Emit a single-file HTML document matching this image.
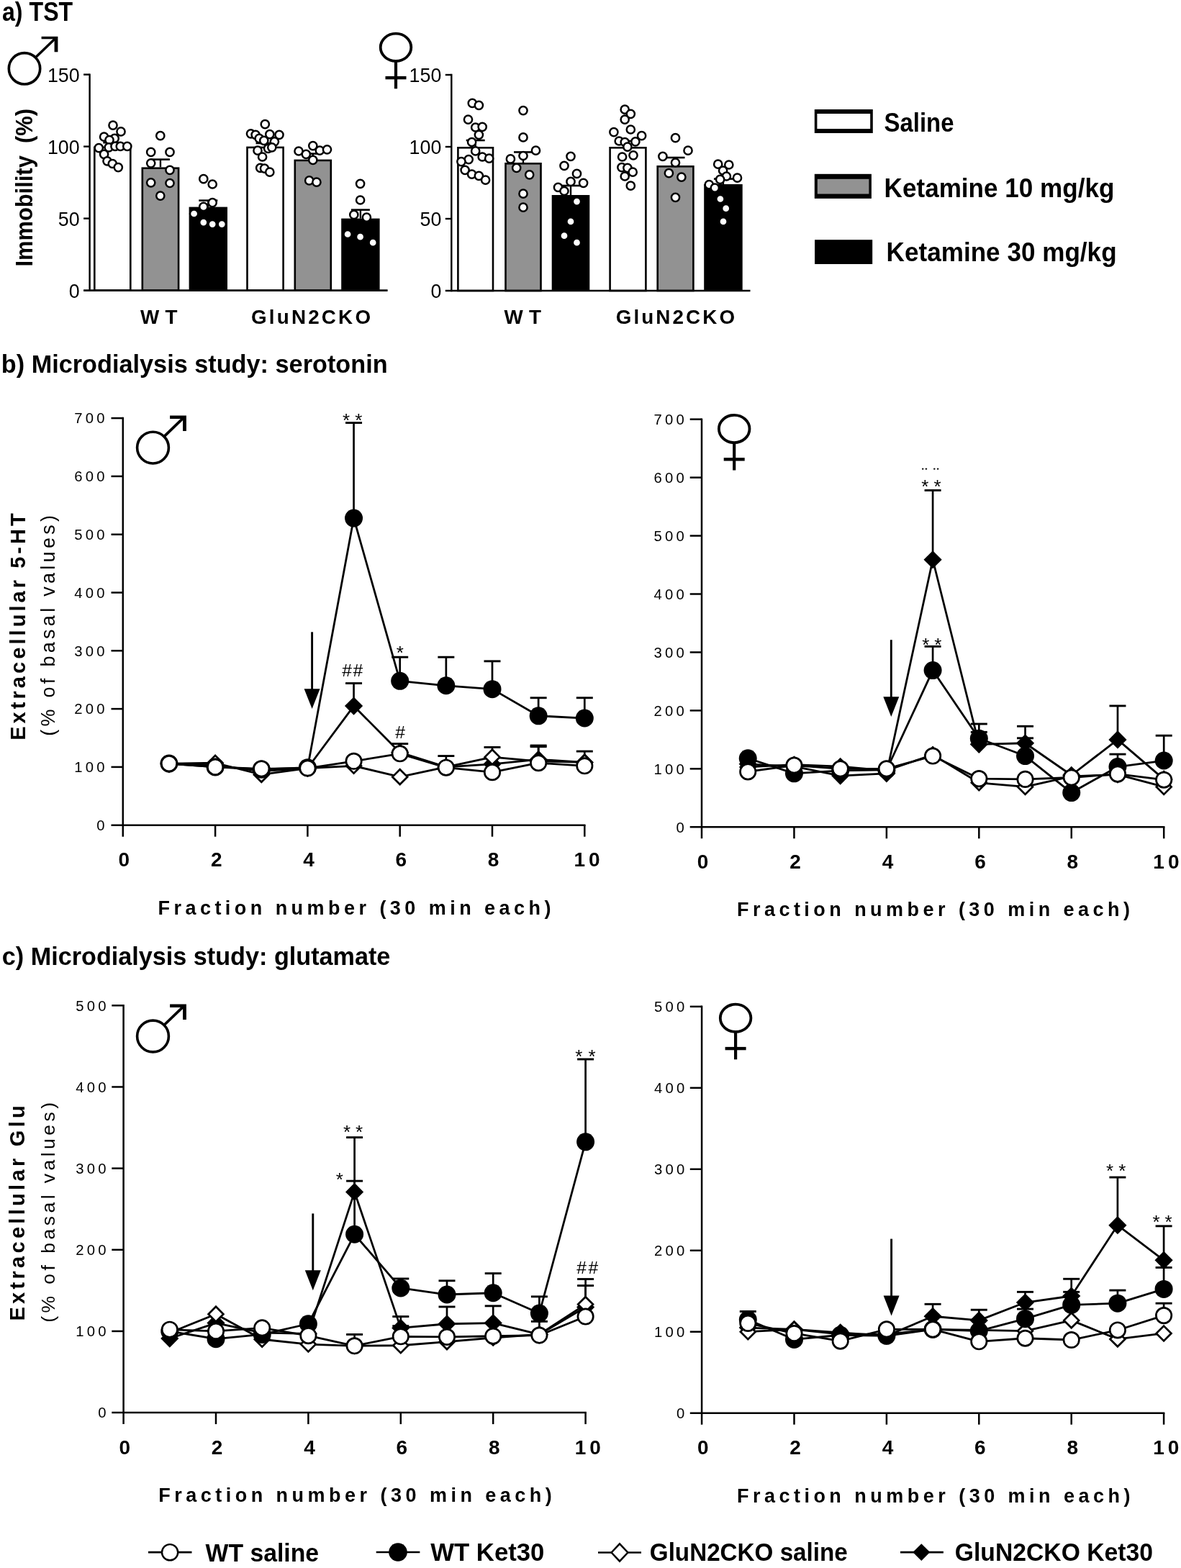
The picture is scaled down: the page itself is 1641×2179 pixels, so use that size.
<!DOCTYPE html>
<html><head><meta charset="utf-8"><title>Figure</title>
<style>html,body{margin:0;padding:0;background:#fff;overflow:hidden}svg{display:block}</style>
</head><body>
<svg width="1641" height="2179" viewBox="0 0 1641 2179">
<rect width="1641" height="2179" fill="#fff"/>
<g font-family="'Liberation Sans', Arial, sans-serif" font-weight="bold" fill="#000">
<text x="3" y="28.9" font-size="36.2" textLength="98.2" lengthAdjust="spacingAndGlyphs">a) TST</text>
<text x="1.8" y="517.8" font-size="35.2" textLength="536.8" lengthAdjust="spacingAndGlyphs">b) Microdialysis study: serotonin</text>
<text x="2.8" y="1340.8" font-size="35.6" textLength="539.6" lengthAdjust="spacingAndGlyphs">c) Microdialysis study: glutamate</text>
</g>
<g transform="translate(34 95.3)" stroke="#000">
<circle r="21.7" fill="none" stroke-width="3.6"/>
<line x1="15.5" y1="-15.5" x2="43" y2="-42" stroke-width="3.4"/>
<polygon points="23.6,-44.6 46.4,-44.6 46.4,-23 41.6,-23 41.6,-41 23.6,-41" stroke="none" fill="#000"/>
</g>
<g transform="translate(550 65.8)" stroke="#000">
<ellipse rx="21.3" ry="19.1" fill="none" stroke-width="3.8"/>
<line x1="0" y1="20" x2="0" y2="57.5" stroke-width="4.2"/>
<line x1="-14.5" y1="42.3" x2="14.5" y2="42.3" stroke-width="4.4"/>
</g>
<g stroke="#000">
<rect x="131.3" y="204.9" width="50" height="198.7" fill="#fff" stroke-width="2.6"/>
<line x1="156.3" y1="203.6" x2="156.3" y2="198.2" stroke-width="2.4"/>
<line x1="143.3" y1="198.2" x2="169.3" y2="198.2" stroke-width="2.6"/>
<rect x="197.8" y="233.7" width="50.3" height="169.9" fill="#929292" stroke-width="2.6"/>
<line x1="222.95" y1="232.4" x2="222.95" y2="221.6" stroke-width="2.4"/>
<line x1="209.95" y1="221.6" x2="235.95" y2="221.6" stroke-width="2.6"/>
<rect x="262.6" y="287.6" width="53.4" height="116" fill="#000" stroke="none"/>
<line x1="289.3" y1="287.6" x2="289.3" y2="278.6" stroke-width="2.4"/>
<line x1="276.3" y1="278.6" x2="302.3" y2="278.6" stroke-width="2.6"/>
<rect x="343.5" y="204.9" width="50.1" height="198.7" fill="#fff" stroke-width="2.6"/>
<line x1="368.55" y1="203.6" x2="368.55" y2="199" stroke-width="2.4"/>
<line x1="355.55" y1="199" x2="381.55" y2="199" stroke-width="2.6"/>
<rect x="409.8" y="222.9" width="50" height="180.7" fill="#929292" stroke-width="2.6"/>
<line x1="434.8" y1="221.6" x2="434.8" y2="213.6" stroke-width="2.4"/>
<line x1="421.8" y1="213.6" x2="447.8" y2="213.6" stroke-width="2.6"/>
<rect x="474.2" y="303.6" width="53.4" height="100" fill="#000" stroke="none"/>
<line x1="500.9" y1="303.6" x2="500.9" y2="291.6" stroke-width="2.4"/>
<line x1="487.9" y1="291.6" x2="513.9" y2="291.6" stroke-width="2.6"/>
</g>
<g stroke="#000" fill="none">
<line x1="124.6" y1="102.4" x2="124.6" y2="404.8" stroke-width="2.4"/>
<line x1="116.1" y1="403.6" x2="538.6" y2="403.6" stroke-width="2.6"/>
<line x1="116.1" y1="303.6" x2="124.6" y2="303.6" stroke-width="2.4"/>
<line x1="116.1" y1="203.6" x2="124.6" y2="203.6" stroke-width="2.4"/>
<line x1="116.1" y1="103.6" x2="124.6" y2="103.6" stroke-width="2.4"/>
</g>
<g fill="#fff" stroke="#000" stroke-width="2.5">
<circle cx="157" cy="174.1" r="5.6"/>
<circle cx="168" cy="182.9" r="5.6"/>
<circle cx="144.6" cy="190.2" r="5.6"/>
<circle cx="159.2" cy="192.4" r="5.6"/>
<circle cx="152" cy="194.5" r="5.6"/>
<circle cx="137.3" cy="205.6" r="5.6"/>
<circle cx="151.2" cy="204.8" r="5.6"/>
<circle cx="160" cy="203.4" r="5.6"/>
<circle cx="167.3" cy="203.4" r="5.6"/>
<circle cx="176.8" cy="203.4" r="5.6"/>
<circle cx="144.6" cy="214.3" r="5.6"/>
<circle cx="149" cy="223.8" r="5.6"/>
<circle cx="156.3" cy="227.5" r="5.6"/>
<circle cx="164.3" cy="232.6" r="5.6"/>
<circle cx="222.8" cy="188.7" r="5.6"/>
<circle cx="209.7" cy="211.4" r="5.6"/>
<circle cx="236" cy="211.4" r="5.6"/>
<circle cx="209.7" cy="226.8" r="5.6"/>
<circle cx="236" cy="236.3" r="5.6"/>
<circle cx="209.7" cy="253.8" r="5.6"/>
<circle cx="236" cy="254.5" r="5.6"/>
<circle cx="222.8" cy="272.1" r="5.6"/>
<circle cx="282.8" cy="248.7" r="5.6"/>
<circle cx="295.2" cy="256" r="5.6"/>
<circle cx="295.2" cy="281.6" r="5.6"/>
<circle cx="282.8" cy="287.4" r="5.6"/>
<circle cx="269.6" cy="297" r="5.6"/>
<circle cx="282.8" cy="309.1" r="5.6"/>
<circle cx="295.2" cy="311.6" r="5.6"/>
<circle cx="308.3" cy="311.6" r="5.6"/>
<circle cx="368.3" cy="172.7" r="5.6"/>
<circle cx="348.5" cy="185.8" r="5.6"/>
<circle cx="355.1" cy="187.3" r="5.6"/>
<circle cx="374.8" cy="186.6" r="5.6"/>
<circle cx="388" cy="187.3" r="5.6"/>
<circle cx="360.2" cy="192.4" r="5.6"/>
<circle cx="366.8" cy="195.3" r="5.6"/>
<circle cx="381.4" cy="196.8" r="5.6"/>
<circle cx="358" cy="209.2" r="5.6"/>
<circle cx="372.6" cy="206.3" r="5.6"/>
<circle cx="377.8" cy="204.8" r="5.6"/>
<circle cx="364.6" cy="218" r="5.6"/>
<circle cx="361.7" cy="233.4" r="5.6"/>
<circle cx="367.5" cy="234.1" r="5.6"/>
<circle cx="374.8" cy="239.2" r="5.6"/>
<circle cx="434.8" cy="202.6" r="5.6"/>
<circle cx="415" cy="210" r="5.6"/>
<circle cx="425.3" cy="214.3" r="5.6"/>
<circle cx="444.3" cy="209.2" r="5.6"/>
<circle cx="454.5" cy="207.8" r="5.6"/>
<circle cx="434.8" cy="222.4" r="5.6"/>
<circle cx="429.7" cy="250.9" r="5.6"/>
<circle cx="439.9" cy="253.1" r="5.6"/>
<circle cx="500.6" cy="255.3" r="5.6"/>
<circle cx="500.6" cy="278" r="5.6"/>
<circle cx="491.8" cy="298.4" r="5.6"/>
<circle cx="509.4" cy="302.1" r="5.6"/>
<circle cx="483.1" cy="325.5" r="5.6"/>
<circle cx="500.6" cy="329.2" r="5.6"/>
<circle cx="518.2" cy="337.2" r="5.6"/>
</g>
<g font-family="'Liberation Sans', Arial, sans-serif" fill="#000">
<text x="110.6" y="413.6" font-size="26.8" text-anchor="end">0</text>
<text x="110.6" y="313.6" font-size="26.8" text-anchor="end">50</text>
<text x="110.6" y="213.6" font-size="26.8" text-anchor="end">100</text>
<text x="110.6" y="113.6" font-size="26.8" text-anchor="end">150</text>
</g>
<g font-family="'Liberation Sans', Arial, sans-serif" font-weight="bold" fill="#000">
<text x="195" y="450" font-size="27.8" textLength="51.5" lengthAdjust="spacing">W T</text>
<text x="349" y="450" font-size="27.8" textLength="166" lengthAdjust="spacing">GluN2CKO</text>
</g>
<g stroke="#000">
<rect x="636.4" y="205.3" width="48.6" height="198.7" fill="#fff" stroke-width="2.6"/>
<line x1="660.7" y1="204" x2="660.7" y2="195" stroke-width="2.4"/>
<line x1="647.7" y1="195" x2="673.7" y2="195" stroke-width="2.6"/>
<rect x="702.5" y="227.3" width="49" height="176.7" fill="#929292" stroke-width="2.6"/>
<line x1="727" y1="226" x2="727" y2="211.4" stroke-width="2.4"/>
<line x1="714" y1="211.4" x2="740" y2="211.4" stroke-width="2.6"/>
<rect x="766.7" y="271" width="52.6" height="133" fill="#000" stroke="none"/>
<line x1="793" y1="271" x2="793" y2="258" stroke-width="2.4"/>
<line x1="780" y1="258" x2="806" y2="258" stroke-width="2.6"/>
<rect x="847.6" y="205.3" width="49.8" height="198.7" fill="#fff" stroke-width="2.6"/>
<line x1="872.5" y1="204" x2="872.5" y2="196" stroke-width="2.4"/>
<line x1="859.5" y1="196" x2="885.5" y2="196" stroke-width="2.6"/>
<rect x="913.7" y="231.3" width="49.7" height="172.7" fill="#929292" stroke-width="2.6"/>
<line x1="938.55" y1="230" x2="938.55" y2="219" stroke-width="2.4"/>
<line x1="925.55" y1="219" x2="951.55" y2="219" stroke-width="2.6"/>
<rect x="978.2" y="256" width="53.5" height="148" fill="#000" stroke="none"/>
<line x1="1004.95" y1="256" x2="1004.95" y2="248.6" stroke-width="2.4"/>
<line x1="991.95" y1="248.6" x2="1017.95" y2="248.6" stroke-width="2.6"/>
</g>
<g stroke="#000" fill="none">
<line x1="627.3" y1="102.8" x2="627.3" y2="405.2" stroke-width="2.4"/>
<line x1="618.8" y1="404" x2="1042.5" y2="404" stroke-width="2.6"/>
<line x1="618.8" y1="304" x2="627.3" y2="304" stroke-width="2.4"/>
<line x1="618.8" y1="204" x2="627.3" y2="204" stroke-width="2.4"/>
<line x1="618.8" y1="104" x2="627.3" y2="104" stroke-width="2.4"/>
</g>
<g fill="#fff" stroke="#000" stroke-width="2.5">
<circle cx="656.3" cy="143.4" r="5.6"/>
<circle cx="665.4" cy="146.3" r="5.6"/>
<circle cx="650.5" cy="166.1" r="5.6"/>
<circle cx="660.7" cy="177" r="5.6"/>
<circle cx="670.2" cy="176.3" r="5.6"/>
<circle cx="665.4" cy="187.3" r="5.6"/>
<circle cx="655.6" cy="197.5" r="5.6"/>
<circle cx="660.7" cy="209.9" r="5.6"/>
<circle cx="651.2" cy="221.6" r="5.6"/>
<circle cx="640.9" cy="224.6" r="5.6"/>
<circle cx="670.2" cy="218" r="5.6"/>
<circle cx="679.7" cy="220.2" r="5.6"/>
<circle cx="646.1" cy="236.3" r="5.6"/>
<circle cx="655.6" cy="242.1" r="5.6"/>
<circle cx="665.4" cy="244.3" r="5.6"/>
<circle cx="674.6" cy="250.2" r="5.6"/>
<circle cx="727" cy="153.6" r="5.6"/>
<circle cx="727" cy="190.9" r="5.6"/>
<circle cx="744.5" cy="209.2" r="5.6"/>
<circle cx="727" cy="216.5" r="5.6"/>
<circle cx="709.4" cy="220.9" r="5.6"/>
<circle cx="717.7" cy="233.3" r="5.6"/>
<circle cx="735.7" cy="242.8" r="5.6"/>
<circle cx="727" cy="269.2" r="5.6"/>
<circle cx="727" cy="288.2" r="5.6"/>
<circle cx="793" cy="217.3" r="5.6"/>
<circle cx="784" cy="230.4" r="5.6"/>
<circle cx="801.5" cy="241.4" r="5.6"/>
<circle cx="793" cy="252.4" r="5.6"/>
<circle cx="810.6" cy="254.3" r="5.6"/>
<circle cx="775.5" cy="260.4" r="5.6"/>
<circle cx="784" cy="265.5" r="5.6"/>
<circle cx="801.5" cy="280.1" r="5.6"/>
<circle cx="793" cy="307.9" r="5.6"/>
<circle cx="784" cy="327.7" r="5.6"/>
<circle cx="801.5" cy="337.2" r="5.6"/>
<circle cx="868.2" cy="152.2" r="5.6"/>
<circle cx="876.3" cy="158.3" r="5.6"/>
<circle cx="868.2" cy="166.1" r="5.6"/>
<circle cx="852.9" cy="183.6" r="5.6"/>
<circle cx="876.3" cy="180" r="5.6"/>
<circle cx="891.6" cy="188.7" r="5.6"/>
<circle cx="860.2" cy="196" r="5.6"/>
<circle cx="868.2" cy="197.5" r="5.6"/>
<circle cx="882.9" cy="196.8" r="5.6"/>
<circle cx="871.9" cy="204.1" r="5.6"/>
<circle cx="864.6" cy="218" r="5.6"/>
<circle cx="880" cy="215.8" r="5.6"/>
<circle cx="863.9" cy="232.6" r="5.6"/>
<circle cx="871.9" cy="233.3" r="5.6"/>
<circle cx="879.2" cy="239.2" r="5.6"/>
<circle cx="868.2" cy="245" r="5.6"/>
<circle cx="876.3" cy="258.2" r="5.6"/>
<circle cx="938.5" cy="191.7" r="5.6"/>
<circle cx="956" cy="209.2" r="5.6"/>
<circle cx="920.9" cy="217.3" r="5.6"/>
<circle cx="938.5" cy="226" r="5.6"/>
<circle cx="929.4" cy="240.7" r="5.6"/>
<circle cx="946.9" cy="246.1" r="5.6"/>
<circle cx="938.5" cy="274.3" r="5.6"/>
<circle cx="997.7" cy="228.2" r="5.6"/>
<circle cx="1012.8" cy="229" r="5.6"/>
<circle cx="1004.6" cy="237" r="5.6"/>
<circle cx="1009.4" cy="245" r="5.6"/>
<circle cx="1024.5" cy="247.2" r="5.6"/>
<circle cx="1000.6" cy="249.4" r="5.6"/>
<circle cx="985.3" cy="256.7" r="5.6"/>
<circle cx="993.3" cy="261.1" r="5.6"/>
<circle cx="1000.9" cy="276.5" r="5.6"/>
<circle cx="1008.7" cy="289.7" r="5.6"/>
<circle cx="1005" cy="307.9" r="5.6"/>
</g>
<g font-family="'Liberation Sans', Arial, sans-serif" fill="#000">
<text x="613.3" y="414" font-size="26.8" text-anchor="end">0</text>
<text x="613.3" y="314" font-size="26.8" text-anchor="end">50</text>
<text x="613.3" y="214" font-size="26.8" text-anchor="end">100</text>
<text x="613.3" y="114" font-size="26.8" text-anchor="end">150</text>
</g>
<g font-family="'Liberation Sans', Arial, sans-serif" font-weight="bold" fill="#000">
<text x="700.6" y="450" font-size="27.8" textLength="51.5" lengthAdjust="spacing">W T</text>
<text x="855.8" y="450" font-size="27.8" textLength="165.2" lengthAdjust="spacing">GluN2CKO</text>
</g>
<g font-family="'Liberation Sans', Arial, sans-serif" font-weight="bold" fill="#000">
<text x="44.6" y="370.6" font-size="34" textLength="219.6" lengthAdjust="spacingAndGlyphs" transform="rotate(-90 44.6 370.6)">Immobility  (%)</text>
</g>
<g stroke="#000">
<path d="M1131.8 152.1H1212.8V184.9H1131.8Z M1135.4 158.1V178.9H1209.2V158.1Z" fill="#000" fill-rule="evenodd" stroke="none"/>
<rect x="1131.8" y="241.8" width="79.1" height="34.1" fill="#000" stroke="none"/>
<rect x="1135.8" y="248.8" width="71.6" height="20.7" fill="#929292" stroke="none"/>
<rect x="1132.1" y="333.2" width="80.1" height="33.8" fill="#000" stroke="none"/>
</g>
<g font-family="'Liberation Sans', Arial, sans-serif" font-weight="bold" fill="#000">
<text x="1228.5" y="183.3" font-size="36.2" textLength="97" lengthAdjust="spacingAndGlyphs">Saline</text>
<text x="1228.6" y="274" font-size="36.2" textLength="319.8" lengthAdjust="spacingAndGlyphs">Ketamine 10 mg/kg</text>
<text x="1231.6" y="363.4" font-size="36.2" textLength="320" lengthAdjust="spacingAndGlyphs">Ketamine 30 mg/kg</text>
</g>
<g stroke="#000" fill="none">
<line x1="170.8" y1="579.85" x2="170.8" y2="1162.7" stroke-width="2.5"/>
<line x1="154.5" y1="1146.7" x2="813.55" y2="1146.7" stroke-width="2.5"/>
<line x1="154.5" y1="1065.9" x2="170.8" y2="1065.9" stroke-width="2.5"/>
<line x1="154.5" y1="985.1" x2="170.8" y2="985.1" stroke-width="2.5"/>
<line x1="154.5" y1="904.3" x2="170.8" y2="904.3" stroke-width="2.5"/>
<line x1="154.5" y1="823.5" x2="170.8" y2="823.5" stroke-width="2.5"/>
<line x1="154.5" y1="742.7" x2="170.8" y2="742.7" stroke-width="2.5"/>
<line x1="154.5" y1="661.9" x2="170.8" y2="661.9" stroke-width="2.5"/>
<line x1="154.5" y1="581.1" x2="170.8" y2="581.1" stroke-width="2.5"/>
<line x1="299.1" y1="1146.7" x2="299.1" y2="1162.7" stroke-width="2.5"/>
<line x1="427.4" y1="1146.7" x2="427.4" y2="1162.7" stroke-width="2.5"/>
<line x1="555.7" y1="1146.7" x2="555.7" y2="1162.7" stroke-width="2.5"/>
<line x1="684" y1="1146.7" x2="684" y2="1162.7" stroke-width="2.5"/>
<line x1="812.3" y1="1146.7" x2="812.3" y2="1162.7" stroke-width="2.5"/>
</g>
<g font-family="'Liberation Sans', Arial, sans-serif" fill="#000">
<text x="149.8" y="1154" font-size="20.3" text-anchor="end" letter-spacing="4.2">0</text>
<text x="149.8" y="1073.2" font-size="20.3" text-anchor="end" letter-spacing="4.2">100</text>
<text x="149.8" y="992.4" font-size="20.3" text-anchor="end" letter-spacing="4.2">200</text>
<text x="149.8" y="911.6" font-size="20.3" text-anchor="end" letter-spacing="4.2">300</text>
<text x="149.8" y="830.8" font-size="20.3" text-anchor="end" letter-spacing="4.2">400</text>
<text x="149.8" y="750" font-size="20.3" text-anchor="end" letter-spacing="4.2">500</text>
<text x="149.8" y="669.2" font-size="20.3" text-anchor="end" letter-spacing="4.2">600</text>
<text x="149.8" y="588.4" font-size="20.3" text-anchor="end" letter-spacing="4.2">700</text>
<text x="172.4" y="1204.2" font-size="28" font-weight="bold" text-anchor="middle">0</text>
<text x="300.7" y="1204.2" font-size="28" font-weight="bold" text-anchor="middle">2</text>
<text x="429" y="1204.2" font-size="28" font-weight="bold" text-anchor="middle">4</text>
<text x="557.3" y="1204.2" font-size="28" font-weight="bold" text-anchor="middle">6</text>
<text x="685.6" y="1204.2" font-size="28" font-weight="bold" text-anchor="middle">8</text>
<text x="818" y="1204.2" font-size="28" font-weight="bold" text-anchor="middle" letter-spacing="5">10</text>
<text x="219.5" y="1270.7" font-size="27" font-weight="bold" textLength="546" lengthAdjust="spacing">Fraction number (30 min each)</text>
</g>
<g stroke="#000" fill="#000">
<line x1="433.6" y1="878.3" x2="433.6" y2="959.3" stroke-width="2.9"/>
<polygon stroke="none" points="422.6,957.3 444.6,957.3 433.6,985"/>
</g>
<g stroke="#000" fill="none">
<line x1="491.55" y1="720.08" x2="491.55" y2="587.56" stroke-width="2.7"/>
<line x1="480.05" y1="587.56" x2="503.05" y2="587.56" stroke-width="2.9"/>
<line x1="555.7" y1="946.32" x2="555.7" y2="913.19" stroke-width="2.7"/>
<line x1="544.2" y1="913.19" x2="567.2" y2="913.19" stroke-width="2.9"/>
<line x1="619.85" y1="952.78" x2="619.85" y2="913.19" stroke-width="2.7"/>
<line x1="608.35" y1="913.19" x2="631.35" y2="913.19" stroke-width="2.9"/>
<line x1="684" y1="957.63" x2="684" y2="918.84" stroke-width="2.7"/>
<line x1="672.5" y1="918.84" x2="695.5" y2="918.84" stroke-width="2.9"/>
<line x1="748.15" y1="994.8" x2="748.15" y2="969.75" stroke-width="2.7"/>
<line x1="736.65" y1="969.75" x2="759.65" y2="969.75" stroke-width="2.9"/>
<line x1="812.3" y1="998.03" x2="812.3" y2="969.75" stroke-width="2.7"/>
<line x1="800.8" y1="969.75" x2="823.8" y2="969.75" stroke-width="2.9"/>
<line x1="491.55" y1="981.06" x2="491.55" y2="949.55" stroke-width="2.7"/>
<line x1="480.05" y1="949.55" x2="503.05" y2="949.55" stroke-width="2.9"/>
<line x1="555.7" y1="1045.7" x2="555.7" y2="1033.58" stroke-width="2.7"/>
<line x1="544.2" y1="1033.58" x2="567.2" y2="1033.58" stroke-width="2.9"/>
<line x1="619.85" y1="1065.9" x2="619.85" y2="1050.55" stroke-width="2.7"/>
<line x1="608.35" y1="1050.55" x2="631.35" y2="1050.55" stroke-width="2.9"/>
<line x1="748.15" y1="1055.4" x2="748.15" y2="1036" stroke-width="2.7"/>
<line x1="736.65" y1="1036" x2="759.65" y2="1036" stroke-width="2.9"/>
<line x1="812.3" y1="1059.44" x2="812.3" y2="1044.08" stroke-width="2.7"/>
<line x1="800.8" y1="1044.08" x2="823.8" y2="1044.08" stroke-width="2.9"/>
<line x1="684" y1="1052.16" x2="684" y2="1038.43" stroke-width="2.7"/>
<line x1="672.5" y1="1038.43" x2="695.5" y2="1038.43" stroke-width="2.9"/>
<line x1="748.15" y1="1057.82" x2="748.15" y2="1037.62" stroke-width="2.7"/>
<line x1="736.65" y1="1037.62" x2="759.65" y2="1037.62" stroke-width="2.9"/>
</g>
<g stroke="#000" fill="none" stroke-linejoin="round">
<polyline points="234.95,1061.86 299.1,1063.48 363.25,1071.56 427.4,1067.52 491.55,981.06 555.7,1045.7 619.85,1065.9 684,1061.86 748.15,1055.4 812.3,1059.44" fill="none" stroke-width="2.8"/>
<polyline points="234.95,1061.05 299.1,1060.24 363.25,1076.4 427.4,1067.52 491.55,1064.28 555.7,1079.64 619.85,1065.9 684,1052.16 748.15,1057.82 812.3,1059.44" fill="none" stroke-width="2.8"/>
<polyline points="234.95,1061.05 299.1,1065.9 363.25,1069.13 427.4,1066.71 491.55,720.08 555.7,946.32 619.85,952.78 684,957.63 748.15,994.8 812.3,998.03" fill="none" stroke-width="2.8"/>
<polyline points="234.95,1061.05 299.1,1065.9 363.25,1068.32 427.4,1067.52 491.55,1057.82 555.7,1047.32 619.85,1066.71 684,1073.17 748.15,1060.24 812.3,1064.28" fill="none" stroke-width="2.8"/>
</g>
<g stroke="#000">
<polygon points="234.95,1049.26 247.55,1061.86 234.95,1074.46 222.35,1061.86" fill="#000" stroke="none"/>
<polygon points="299.1,1050.88 311.7,1063.48 299.1,1076.08 286.5,1063.48" fill="#000" stroke="none"/>
<polygon points="363.25,1058.96 375.85,1071.56 363.25,1084.16 350.65,1071.56" fill="#000" stroke="none"/>
<polygon points="427.4,1054.92 440,1067.52 427.4,1080.12 414.8,1067.52" fill="#000" stroke="none"/>
<polygon points="491.55,968.46 504.15,981.06 491.55,993.66 478.95,981.06" fill="#000" stroke="none"/>
<polygon points="555.7,1033.1 568.3,1045.7 555.7,1058.3 543.1,1045.7" fill="#000" stroke="none"/>
<polygon points="619.85,1053.3 632.45,1065.9 619.85,1078.5 607.25,1065.9" fill="#000" stroke="none"/>
<polygon points="684,1049.26 696.6,1061.86 684,1074.46 671.4,1061.86" fill="#000" stroke="none"/>
<polygon points="748.15,1042.8 760.75,1055.4 748.15,1068 735.55,1055.4" fill="#000" stroke="none"/>
<polygon points="812.3,1046.84 824.9,1059.44 812.3,1072.04 799.7,1059.44" fill="#000" stroke="none"/>
<polygon points="234.95,1050.65 245.35,1061.05 234.95,1071.45 224.55,1061.05" fill="#fff" stroke-width="2.7"/>
<polygon points="299.1,1049.84 309.5,1060.24 299.1,1070.64 288.7,1060.24" fill="#fff" stroke-width="2.7"/>
<polygon points="363.25,1066 373.65,1076.4 363.25,1086.8 352.85,1076.4" fill="#fff" stroke-width="2.7"/>
<polygon points="427.4,1057.12 437.8,1067.52 427.4,1077.92 417,1067.52" fill="#fff" stroke-width="2.7"/>
<polygon points="491.55,1053.88 501.95,1064.28 491.55,1074.68 481.15,1064.28" fill="#fff" stroke-width="2.7"/>
<polygon points="555.7,1069.24 566.1,1079.64 555.7,1090.04 545.3,1079.64" fill="#fff" stroke-width="2.7"/>
<polygon points="619.85,1055.5 630.25,1065.9 619.85,1076.3 609.45,1065.9" fill="#fff" stroke-width="2.7"/>
<polygon points="684,1041.76 694.4,1052.16 684,1062.56 673.6,1052.16" fill="#fff" stroke-width="2.7"/>
<polygon points="748.15,1047.42 758.55,1057.82 748.15,1068.22 737.75,1057.82" fill="#fff" stroke-width="2.7"/>
<polygon points="812.3,1049.04 822.7,1059.44 812.3,1069.84 801.9,1059.44" fill="#fff" stroke-width="2.7"/>
<circle cx="234.95" cy="1061.05" r="12.5" fill="#000" stroke="none"/>
<circle cx="299.1" cy="1065.9" r="12.5" fill="#000" stroke="none"/>
<circle cx="363.25" cy="1069.13" r="12.5" fill="#000" stroke="none"/>
<circle cx="427.4" cy="1066.71" r="12.5" fill="#000" stroke="none"/>
<circle cx="491.55" cy="720.08" r="12.5" fill="#000" stroke="none"/>
<circle cx="555.7" cy="946.32" r="12.5" fill="#000" stroke="none"/>
<circle cx="619.85" cy="952.78" r="12.5" fill="#000" stroke="none"/>
<circle cx="684" cy="957.63" r="12.5" fill="#000" stroke="none"/>
<circle cx="748.15" cy="994.8" r="12.5" fill="#000" stroke="none"/>
<circle cx="812.3" cy="998.03" r="12.5" fill="#000" stroke="none"/>
<circle cx="234.95" cy="1061.05" r="10.7" fill="#fff" stroke-width="2.7"/>
<circle cx="299.1" cy="1065.9" r="10.7" fill="#fff" stroke-width="2.7"/>
<circle cx="363.25" cy="1068.32" r="10.7" fill="#fff" stroke-width="2.7"/>
<circle cx="427.4" cy="1067.52" r="10.7" fill="#fff" stroke-width="2.7"/>
<circle cx="491.55" cy="1057.82" r="10.7" fill="#fff" stroke-width="2.7"/>
<circle cx="555.7" cy="1047.32" r="10.7" fill="#fff" stroke-width="2.7"/>
<circle cx="619.85" cy="1066.71" r="10.7" fill="#fff" stroke-width="2.7"/>
<circle cx="684" cy="1073.17" r="10.7" fill="#fff" stroke-width="2.7"/>
<circle cx="748.15" cy="1060.24" r="10.7" fill="#fff" stroke-width="2.7"/>
<circle cx="812.3" cy="1064.28" r="10.7" fill="#fff" stroke-width="2.7"/>
</g>
<g font-family="'Liberation Sans', Arial, sans-serif" fill="#000" text-anchor="middle">
<text x="481.1" y="592.79" font-size="26">*</text>
<text x="498.2" y="592.79" font-size="26">*</text>
<text x="482" y="940.43" font-size="24.6">#</text>
<text x="497.4" y="940.43" font-size="24.6">#</text>
<text x="555.8" y="916.19" font-size="26">*</text>
<text x="556.2" y="1025.83" font-size="24.6">#</text>
</g>
<g stroke="#000" fill="none">
<line x1="975" y1="581.4" x2="975" y2="1165.3" stroke-width="2.5"/>
<line x1="958.7" y1="1149.3" x2="1618.45" y2="1149.3" stroke-width="2.5"/>
<line x1="958.7" y1="1068.35" x2="975" y2="1068.35" stroke-width="2.5"/>
<line x1="958.7" y1="987.4" x2="975" y2="987.4" stroke-width="2.5"/>
<line x1="958.7" y1="906.45" x2="975" y2="906.45" stroke-width="2.5"/>
<line x1="958.7" y1="825.5" x2="975" y2="825.5" stroke-width="2.5"/>
<line x1="958.7" y1="744.55" x2="975" y2="744.55" stroke-width="2.5"/>
<line x1="958.7" y1="663.6" x2="975" y2="663.6" stroke-width="2.5"/>
<line x1="958.7" y1="582.65" x2="975" y2="582.65" stroke-width="2.5"/>
<line x1="1103.44" y1="1149.3" x2="1103.44" y2="1165.3" stroke-width="2.5"/>
<line x1="1231.88" y1="1149.3" x2="1231.88" y2="1165.3" stroke-width="2.5"/>
<line x1="1360.32" y1="1149.3" x2="1360.32" y2="1165.3" stroke-width="2.5"/>
<line x1="1488.76" y1="1149.3" x2="1488.76" y2="1165.3" stroke-width="2.5"/>
<line x1="1617.2" y1="1149.3" x2="1617.2" y2="1165.3" stroke-width="2.5"/>
</g>
<g font-family="'Liberation Sans', Arial, sans-serif" fill="#000">
<text x="955" y="1156.6" font-size="20.3" text-anchor="end" letter-spacing="4.2">0</text>
<text x="955" y="1075.65" font-size="20.3" text-anchor="end" letter-spacing="4.2">100</text>
<text x="955" y="994.7" font-size="20.3" text-anchor="end" letter-spacing="4.2">200</text>
<text x="955" y="913.75" font-size="20.3" text-anchor="end" letter-spacing="4.2">300</text>
<text x="955" y="832.8" font-size="20.3" text-anchor="end" letter-spacing="4.2">400</text>
<text x="955" y="751.85" font-size="20.3" text-anchor="end" letter-spacing="4.2">500</text>
<text x="955" y="670.9" font-size="20.3" text-anchor="end" letter-spacing="4.2">600</text>
<text x="955" y="589.95" font-size="20.3" text-anchor="end" letter-spacing="4.2">700</text>
<text x="976.6" y="1206.8" font-size="28" font-weight="bold" text-anchor="middle">0</text>
<text x="1105.04" y="1206.8" font-size="28" font-weight="bold" text-anchor="middle">2</text>
<text x="1233.48" y="1206.8" font-size="28" font-weight="bold" text-anchor="middle">4</text>
<text x="1361.92" y="1206.8" font-size="28" font-weight="bold" text-anchor="middle">6</text>
<text x="1490.36" y="1206.8" font-size="28" font-weight="bold" text-anchor="middle">8</text>
<text x="1622.9" y="1206.8" font-size="28" font-weight="bold" text-anchor="middle" letter-spacing="5">10</text>
<text x="1024" y="1273.3" font-size="27" font-weight="bold" textLength="546" lengthAdjust="spacing">Fraction number (30 min each)</text>
</g>
<g stroke="#000" fill="#000">
<line x1="1238.3" y1="889.2" x2="1238.3" y2="970.2" stroke-width="2.9"/>
<polygon stroke="none" points="1227.3,968.2 1249.3,968.2 1238.3,996"/>
</g>
<g stroke="#000" fill="none">
<line x1="1296.1" y1="931.54" x2="1296.1" y2="898.36" stroke-width="2.7"/>
<line x1="1284.6" y1="898.36" x2="1307.6" y2="898.36" stroke-width="2.9"/>
<line x1="1360.32" y1="1026.26" x2="1360.32" y2="1006.02" stroke-width="2.7"/>
<line x1="1348.82" y1="1006.02" x2="1371.82" y2="1006.02" stroke-width="2.9"/>
<line x1="1424.54" y1="1050.54" x2="1424.54" y2="1025.77" stroke-width="2.7"/>
<line x1="1413.04" y1="1025.77" x2="1436.04" y2="1025.77" stroke-width="2.9"/>
<line x1="1552.98" y1="1065.52" x2="1552.98" y2="1048.11" stroke-width="2.7"/>
<line x1="1541.48" y1="1048.11" x2="1564.48" y2="1048.11" stroke-width="2.9"/>
<line x1="1617.2" y1="1057.02" x2="1617.2" y2="1022.21" stroke-width="2.7"/>
<line x1="1605.7" y1="1022.21" x2="1628.7" y2="1022.21" stroke-width="2.9"/>
<line x1="1296.1" y1="777.74" x2="1296.1" y2="681.41" stroke-width="2.7"/>
<line x1="1284.6" y1="681.41" x2="1307.6" y2="681.41" stroke-width="2.9"/>
<line x1="1360.32" y1="1034.35" x2="1360.32" y2="1017.35" stroke-width="2.7"/>
<line x1="1348.82" y1="1017.35" x2="1371.82" y2="1017.35" stroke-width="2.9"/>
<line x1="1424.54" y1="1032.73" x2="1424.54" y2="1009.26" stroke-width="2.7"/>
<line x1="1413.04" y1="1009.26" x2="1436.04" y2="1009.26" stroke-width="2.9"/>
<line x1="1552.98" y1="1027.88" x2="1552.98" y2="980.92" stroke-width="2.7"/>
<line x1="1541.48" y1="980.92" x2="1564.48" y2="980.92" stroke-width="2.9"/>
</g>
<g stroke="#000" fill="none" stroke-linejoin="round">
<polyline points="1039.22,1061.87 1103.44,1065.11 1167.66,1078.06 1231.88,1074.83 1296.1,777.74 1360.32,1034.35 1424.54,1032.73 1488.76,1077.25 1552.98,1027.88 1617.2,1082.92" fill="none" stroke-width="2.8"/>
<polyline points="1039.22,1065.92 1103.44,1062.68 1167.66,1065.11 1231.88,1070.78 1296.1,1048.92 1360.32,1087.78 1424.54,1093.44 1488.76,1078.87 1552.98,1076.44 1617.2,1093.44" fill="none" stroke-width="2.8"/>
<polyline points="1039.22,1053.78 1103.44,1074.83 1167.66,1070.78 1231.88,1069.97 1296.1,931.54 1360.32,1026.26 1424.54,1050.54 1488.76,1101.54 1552.98,1065.52 1617.2,1057.02" fill="none" stroke-width="2.8"/>
<polyline points="1039.22,1072.4 1103.44,1063.49 1167.66,1068.35 1231.88,1068.35 1296.1,1050.54 1360.32,1082.11 1424.54,1082.92 1488.76,1080.49 1552.98,1075.64 1617.2,1083.73" fill="none" stroke-width="2.8"/>
</g>
<g stroke="#000">
<polygon points="1039.22,1049.27 1051.82,1061.87 1039.22,1074.47 1026.62,1061.87" fill="#000" stroke="none"/>
<polygon points="1103.44,1052.51 1116.04,1065.11 1103.44,1077.71 1090.84,1065.11" fill="#000" stroke="none"/>
<polygon points="1167.66,1065.46 1180.26,1078.06 1167.66,1090.66 1155.06,1078.06" fill="#000" stroke="none"/>
<polygon points="1231.88,1062.23 1244.48,1074.83 1231.88,1087.43 1219.28,1074.83" fill="#000" stroke="none"/>
<polygon points="1296.1,765.14 1308.7,777.74 1296.1,790.34 1283.5,777.74" fill="#000" stroke="none"/>
<polygon points="1360.32,1021.75 1372.92,1034.35 1360.32,1046.95 1347.72,1034.35" fill="#000" stroke="none"/>
<polygon points="1424.54,1020.13 1437.14,1032.73 1424.54,1045.33 1411.94,1032.73" fill="#000" stroke="none"/>
<polygon points="1488.76,1064.65 1501.36,1077.25 1488.76,1089.85 1476.16,1077.25" fill="#000" stroke="none"/>
<polygon points="1552.98,1015.27 1565.58,1027.88 1552.98,1040.47 1540.38,1027.88" fill="#000" stroke="none"/>
<polygon points="1617.2,1070.32 1629.8,1082.92 1617.2,1095.52 1604.6,1082.92" fill="#000" stroke="none"/>
<polygon points="1039.22,1055.52 1049.62,1065.92 1039.22,1076.32 1028.82,1065.92" fill="#fff" stroke-width="2.7"/>
<polygon points="1103.44,1052.28 1113.84,1062.68 1103.44,1073.08 1093.04,1062.68" fill="#fff" stroke-width="2.7"/>
<polygon points="1167.66,1054.71 1178.06,1065.11 1167.66,1075.51 1157.26,1065.11" fill="#fff" stroke-width="2.7"/>
<polygon points="1231.88,1060.38 1242.28,1070.78 1231.88,1081.18 1221.48,1070.78" fill="#fff" stroke-width="2.7"/>
<polygon points="1296.1,1038.52 1306.5,1048.92 1296.1,1059.32 1285.7,1048.92" fill="#fff" stroke-width="2.7"/>
<polygon points="1360.32,1077.38 1370.72,1087.78 1360.32,1098.18 1349.92,1087.78" fill="#fff" stroke-width="2.7"/>
<polygon points="1424.54,1083.04 1434.94,1093.44 1424.54,1103.84 1414.14,1093.44" fill="#fff" stroke-width="2.7"/>
<polygon points="1488.76,1068.47 1499.16,1078.87 1488.76,1089.27 1478.36,1078.87" fill="#fff" stroke-width="2.7"/>
<polygon points="1552.98,1066.04 1563.38,1076.44 1552.98,1086.85 1542.58,1076.44" fill="#fff" stroke-width="2.7"/>
<polygon points="1617.2,1083.04 1627.6,1093.44 1617.2,1103.84 1606.8,1093.44" fill="#fff" stroke-width="2.7"/>
<circle cx="1039.22" cy="1053.78" r="12.5" fill="#000" stroke="none"/>
<circle cx="1103.44" cy="1074.83" r="12.5" fill="#000" stroke="none"/>
<circle cx="1167.66" cy="1070.78" r="12.5" fill="#000" stroke="none"/>
<circle cx="1231.88" cy="1069.97" r="12.5" fill="#000" stroke="none"/>
<circle cx="1296.1" cy="931.54" r="12.5" fill="#000" stroke="none"/>
<circle cx="1360.32" cy="1026.26" r="12.5" fill="#000" stroke="none"/>
<circle cx="1424.54" cy="1050.54" r="12.5" fill="#000" stroke="none"/>
<circle cx="1488.76" cy="1101.54" r="12.5" fill="#000" stroke="none"/>
<circle cx="1552.98" cy="1065.52" r="12.5" fill="#000" stroke="none"/>
<circle cx="1617.2" cy="1057.02" r="12.5" fill="#000" stroke="none"/>
<circle cx="1039.22" cy="1072.4" r="10.7" fill="#fff" stroke-width="2.7"/>
<circle cx="1103.44" cy="1063.49" r="10.7" fill="#fff" stroke-width="2.7"/>
<circle cx="1167.66" cy="1068.35" r="10.7" fill="#fff" stroke-width="2.7"/>
<circle cx="1231.88" cy="1068.35" r="10.7" fill="#fff" stroke-width="2.7"/>
<circle cx="1296.1" cy="1050.54" r="10.7" fill="#fff" stroke-width="2.7"/>
<circle cx="1360.32" cy="1082.11" r="10.7" fill="#fff" stroke-width="2.7"/>
<circle cx="1424.54" cy="1082.92" r="10.7" fill="#fff" stroke-width="2.7"/>
<circle cx="1488.76" cy="1080.49" r="10.7" fill="#fff" stroke-width="2.7"/>
<circle cx="1552.98" cy="1075.64" r="10.7" fill="#fff" stroke-width="2.7"/>
<circle cx="1617.2" cy="1083.73" r="10.7" fill="#fff" stroke-width="2.7"/>
</g>
<g font-family="'Liberation Sans', Arial, sans-serif" fill="#000" text-anchor="middle">
<text x="1285.3" y="685.19" font-size="26">*</text>
<text x="1302.5" y="685.19" font-size="26">*</text>
<text x="1286.4" y="904.59" font-size="26">*</text>
<text x="1303.4" y="904.59" font-size="26">*</text>
</g>
<g stroke="#000" fill="none">
<line x1="171.6" y1="1396.05" x2="171.6" y2="1979.1" stroke-width="2.5"/>
<line x1="155.3" y1="1963.1" x2="814.85" y2="1963.1" stroke-width="2.5"/>
<line x1="155.3" y1="1849.94" x2="171.6" y2="1849.94" stroke-width="2.5"/>
<line x1="155.3" y1="1736.78" x2="171.6" y2="1736.78" stroke-width="2.5"/>
<line x1="155.3" y1="1623.62" x2="171.6" y2="1623.62" stroke-width="2.5"/>
<line x1="155.3" y1="1510.46" x2="171.6" y2="1510.46" stroke-width="2.5"/>
<line x1="155.3" y1="1397.3" x2="171.6" y2="1397.3" stroke-width="2.5"/>
<line x1="300" y1="1963.1" x2="300" y2="1979.1" stroke-width="2.5"/>
<line x1="428.4" y1="1963.1" x2="428.4" y2="1979.1" stroke-width="2.5"/>
<line x1="556.8" y1="1963.1" x2="556.8" y2="1979.1" stroke-width="2.5"/>
<line x1="685.2" y1="1963.1" x2="685.2" y2="1979.1" stroke-width="2.5"/>
<line x1="813.6" y1="1963.1" x2="813.6" y2="1979.1" stroke-width="2.5"/>
</g>
<g font-family="'Liberation Sans', Arial, sans-serif" fill="#000">
<text x="151.8" y="1970.4" font-size="20.3" text-anchor="end" letter-spacing="4.2">0</text>
<text x="151.8" y="1857.24" font-size="20.3" text-anchor="end" letter-spacing="4.2">100</text>
<text x="151.8" y="1744.08" font-size="20.3" text-anchor="end" letter-spacing="4.2">200</text>
<text x="151.8" y="1630.92" font-size="20.3" text-anchor="end" letter-spacing="4.2">300</text>
<text x="151.8" y="1517.76" font-size="20.3" text-anchor="end" letter-spacing="4.2">400</text>
<text x="151.8" y="1404.6" font-size="20.3" text-anchor="end" letter-spacing="4.2">500</text>
<text x="173.2" y="2020.6" font-size="28" font-weight="bold" text-anchor="middle">0</text>
<text x="301.6" y="2020.6" font-size="28" font-weight="bold" text-anchor="middle">2</text>
<text x="430" y="2020.6" font-size="28" font-weight="bold" text-anchor="middle">4</text>
<text x="558.4" y="2020.6" font-size="28" font-weight="bold" text-anchor="middle">6</text>
<text x="686.8" y="2020.6" font-size="28" font-weight="bold" text-anchor="middle">8</text>
<text x="819.3" y="2020.6" font-size="28" font-weight="bold" text-anchor="middle" letter-spacing="5">10</text>
<text x="220.3" y="2087.1" font-size="27" font-weight="bold" textLength="546.5" lengthAdjust="spacing">Fraction number (30 min each)</text>
</g>
<g stroke="#000" fill="#000">
<line x1="434.8" y1="1686.4" x2="434.8" y2="1767.2" stroke-width="2.9"/>
<polygon stroke="none" points="423.8,1765.2 445.8,1765.2 434.8,1793.3"/>
</g>
<g stroke="#000" fill="none">
<line x1="492.6" y1="1715.28" x2="492.6" y2="1580.62" stroke-width="2.7"/>
<line x1="481.1" y1="1580.62" x2="504.1" y2="1580.62" stroke-width="2.9"/>
<line x1="556.8" y1="1789.97" x2="556.8" y2="1776.95" stroke-width="2.7"/>
<line x1="545.3" y1="1776.95" x2="568.3" y2="1776.95" stroke-width="2.9"/>
<line x1="621" y1="1799.02" x2="621" y2="1779.78" stroke-width="2.7"/>
<line x1="609.5" y1="1779.78" x2="632.5" y2="1779.78" stroke-width="2.9"/>
<line x1="685.2" y1="1796.75" x2="685.2" y2="1769.6" stroke-width="2.7"/>
<line x1="673.7" y1="1769.6" x2="696.7" y2="1769.6" stroke-width="2.9"/>
<line x1="749.4" y1="1825.04" x2="749.4" y2="1801.85" stroke-width="2.7"/>
<line x1="737.9" y1="1801.85" x2="760.9" y2="1801.85" stroke-width="2.9"/>
<line x1="813.6" y1="1586.84" x2="813.6" y2="1471.99" stroke-width="2.7"/>
<line x1="802.1" y1="1471.99" x2="825.1" y2="1471.99" stroke-width="2.9"/>
<line x1="492.6" y1="1656.44" x2="492.6" y2="1641.16" stroke-width="2.7"/>
<line x1="481.1" y1="1641.16" x2="504.1" y2="1641.16" stroke-width="2.9"/>
<line x1="556.8" y1="1845.41" x2="556.8" y2="1829.57" stroke-width="2.7"/>
<line x1="545.3" y1="1829.57" x2="568.3" y2="1829.57" stroke-width="2.9"/>
<line x1="621" y1="1839.76" x2="621" y2="1815.99" stroke-width="2.7"/>
<line x1="609.5" y1="1815.99" x2="632.5" y2="1815.99" stroke-width="2.9"/>
<line x1="685.2" y1="1838.62" x2="685.2" y2="1814.86" stroke-width="2.7"/>
<line x1="673.7" y1="1814.86" x2="696.7" y2="1814.86" stroke-width="2.9"/>
<line x1="749.4" y1="1854.47" x2="749.4" y2="1836.36" stroke-width="2.7"/>
<line x1="737.9" y1="1836.36" x2="760.9" y2="1836.36" stroke-width="2.9"/>
<line x1="813.6" y1="1816.56" x2="813.6" y2="1786.57" stroke-width="2.7"/>
<line x1="802.1" y1="1786.57" x2="825.1" y2="1786.57" stroke-width="2.9"/>
<line x1="813.6" y1="1812.6" x2="813.6" y2="1777.52" stroke-width="2.7"/>
<line x1="802.1" y1="1777.52" x2="825.1" y2="1777.52" stroke-width="2.9"/>
<line x1="492.6" y1="1870.31" x2="492.6" y2="1854.47" stroke-width="2.7"/>
<line x1="481.1" y1="1854.47" x2="504.1" y2="1854.47" stroke-width="2.9"/>
<line x1="556.8" y1="1849.94" x2="556.8" y2="1842.58" stroke-width="2.6"/>
<line x1="545.3" y1="1842.58" x2="568.3" y2="1842.58" stroke-width="2.8"/>
</g>
<g stroke="#000" fill="none" stroke-linejoin="round">
<polyline points="235.8,1860.12 300,1838.62 364.2,1852.2 428.4,1853.33 492.6,1656.44 556.8,1845.41 621,1839.76 685.2,1838.62 749.4,1854.47 813.6,1816.56" fill="none" stroke-width="2.8"/>
<polyline points="235.8,1852.2 300,1826.18 364.2,1861.26 428.4,1868.05 492.6,1870.31 556.8,1869.74 621,1864.65 685.2,1858.99 749.4,1854.47 813.6,1812.6" fill="none" stroke-width="2.8"/>
<polyline points="235.8,1849.94 300,1860.69 364.2,1854.47 428.4,1839.76 492.6,1715.28 556.8,1789.97 621,1799.02 685.2,1796.75 749.4,1825.04 813.6,1586.84" fill="none" stroke-width="2.8"/>
<polyline points="235.8,1847.68 300,1849.94 364.2,1845.41 428.4,1856.16 492.6,1870.31 556.8,1857.3 621,1857.86 685.2,1856.73 749.4,1855.6 813.6,1829.57" fill="none" stroke-width="2.8"/>
</g>
<g stroke="#000">
<polygon points="235.8,1847.52 248.4,1860.12 235.8,1872.72 223.2,1860.12" fill="#000" stroke="none"/>
<polygon points="300,1826.02 312.6,1838.62 300,1851.22 287.4,1838.62" fill="#000" stroke="none"/>
<polygon points="364.2,1839.6 376.8,1852.2 364.2,1864.8 351.6,1852.2" fill="#000" stroke="none"/>
<polygon points="428.4,1840.73 441,1853.33 428.4,1865.93 415.8,1853.33" fill="#000" stroke="none"/>
<polygon points="492.6,1643.84 505.2,1656.44 492.6,1669.04 480,1656.44" fill="#000" stroke="none"/>
<polygon points="556.8,1832.81 569.4,1845.41 556.8,1858.01 544.2,1845.41" fill="#000" stroke="none"/>
<polygon points="621,1827.16 633.6,1839.76 621,1852.36 608.4,1839.76" fill="#000" stroke="none"/>
<polygon points="685.2,1826.02 697.8,1838.62 685.2,1851.22 672.6,1838.62" fill="#000" stroke="none"/>
<polygon points="749.4,1841.87 762,1854.47 749.4,1867.07 736.8,1854.47" fill="#000" stroke="none"/>
<polygon points="813.6,1803.96 826.2,1816.56 813.6,1829.16 801,1816.56" fill="#000" stroke="none"/>
<polygon points="235.8,1841.8 246.2,1852.2 235.8,1862.6 225.4,1852.2" fill="#fff" stroke-width="2.7"/>
<polygon points="300,1815.78 310.4,1826.18 300,1836.58 289.6,1826.18" fill="#fff" stroke-width="2.7"/>
<polygon points="364.2,1850.86 374.6,1861.26 364.2,1871.66 353.8,1861.26" fill="#fff" stroke-width="2.7"/>
<polygon points="428.4,1857.65 438.8,1868.05 428.4,1878.45 418,1868.05" fill="#fff" stroke-width="2.7"/>
<polygon points="492.6,1859.91 503,1870.31 492.6,1880.71 482.2,1870.31" fill="#fff" stroke-width="2.7"/>
<polygon points="556.8,1859.34 567.2,1869.74 556.8,1880.14 546.4,1869.74" fill="#fff" stroke-width="2.7"/>
<polygon points="621,1854.25 631.4,1864.65 621,1875.05 610.6,1864.65" fill="#fff" stroke-width="2.7"/>
<polygon points="685.2,1848.59 695.6,1858.99 685.2,1869.39 674.8,1858.99" fill="#fff" stroke-width="2.7"/>
<polygon points="749.4,1844.07 759.8,1854.47 749.4,1864.87 739,1854.47" fill="#fff" stroke-width="2.7"/>
<polygon points="813.6,1802.2 824,1812.6 813.6,1823 803.2,1812.6" fill="#fff" stroke-width="2.7"/>
<circle cx="235.8" cy="1849.94" r="12.5" fill="#000" stroke="none"/>
<circle cx="300" cy="1860.69" r="12.5" fill="#000" stroke="none"/>
<circle cx="364.2" cy="1854.47" r="12.5" fill="#000" stroke="none"/>
<circle cx="428.4" cy="1839.76" r="12.5" fill="#000" stroke="none"/>
<circle cx="492.6" cy="1715.28" r="12.5" fill="#000" stroke="none"/>
<circle cx="556.8" cy="1789.97" r="12.5" fill="#000" stroke="none"/>
<circle cx="621" cy="1799.02" r="12.5" fill="#000" stroke="none"/>
<circle cx="685.2" cy="1796.75" r="12.5" fill="#000" stroke="none"/>
<circle cx="749.4" cy="1825.04" r="12.5" fill="#000" stroke="none"/>
<circle cx="813.6" cy="1586.84" r="12.5" fill="#000" stroke="none"/>
<circle cx="235.8" cy="1847.68" r="10.7" fill="#fff" stroke-width="2.7"/>
<circle cx="300" cy="1849.94" r="10.7" fill="#fff" stroke-width="2.7"/>
<circle cx="364.2" cy="1845.41" r="10.7" fill="#fff" stroke-width="2.7"/>
<circle cx="428.4" cy="1856.16" r="10.7" fill="#fff" stroke-width="2.7"/>
<circle cx="492.6" cy="1870.31" r="10.7" fill="#fff" stroke-width="2.7"/>
<circle cx="556.8" cy="1857.3" r="10.7" fill="#fff" stroke-width="2.7"/>
<circle cx="621" cy="1857.86" r="10.7" fill="#fff" stroke-width="2.7"/>
<circle cx="685.2" cy="1856.73" r="10.7" fill="#fff" stroke-width="2.7"/>
<circle cx="749.4" cy="1855.6" r="10.7" fill="#fff" stroke-width="2.7"/>
<circle cx="813.6" cy="1829.57" r="10.7" fill="#fff" stroke-width="2.7"/>
</g>
<g font-family="'Liberation Sans', Arial, sans-serif" fill="#000" text-anchor="middle">
<text x="482" y="1582.19" font-size="26">*</text>
<text x="499.1" y="1582.19" font-size="26">*</text>
<text x="471.8" y="1647.69" font-size="26">*</text>
<text x="804.3" y="1477.29" font-size="26">*</text>
<text x="822.5" y="1477.29" font-size="26">*</text>
<text x="808.1" y="1769.53" font-size="24.6">#</text>
<text x="824.4" y="1769.53" font-size="24.6">#</text>
</g>
<g stroke="#000" fill="none">
<line x1="975.1" y1="1397.55" x2="975.1" y2="1979.7" stroke-width="2.5"/>
<line x1="958.8" y1="1963.7" x2="1618.35" y2="1963.7" stroke-width="2.5"/>
<line x1="958.8" y1="1850.72" x2="975.1" y2="1850.72" stroke-width="2.5"/>
<line x1="958.8" y1="1737.74" x2="975.1" y2="1737.74" stroke-width="2.5"/>
<line x1="958.8" y1="1624.76" x2="975.1" y2="1624.76" stroke-width="2.5"/>
<line x1="958.8" y1="1511.78" x2="975.1" y2="1511.78" stroke-width="2.5"/>
<line x1="958.8" y1="1398.8" x2="975.1" y2="1398.8" stroke-width="2.5"/>
<line x1="1103.5" y1="1963.7" x2="1103.5" y2="1979.7" stroke-width="2.5"/>
<line x1="1231.9" y1="1963.7" x2="1231.9" y2="1979.7" stroke-width="2.5"/>
<line x1="1360.3" y1="1963.7" x2="1360.3" y2="1979.7" stroke-width="2.5"/>
<line x1="1488.7" y1="1963.7" x2="1488.7" y2="1979.7" stroke-width="2.5"/>
<line x1="1617.1" y1="1963.7" x2="1617.1" y2="1979.7" stroke-width="2.5"/>
</g>
<g font-family="'Liberation Sans', Arial, sans-serif" fill="#000">
<text x="955.5" y="1971" font-size="20.3" text-anchor="end" letter-spacing="4.2">0</text>
<text x="955.5" y="1858.02" font-size="20.3" text-anchor="end" letter-spacing="4.2">100</text>
<text x="955.5" y="1745.04" font-size="20.3" text-anchor="end" letter-spacing="4.2">200</text>
<text x="955.5" y="1632.06" font-size="20.3" text-anchor="end" letter-spacing="4.2">300</text>
<text x="955.5" y="1519.08" font-size="20.3" text-anchor="end" letter-spacing="4.2">400</text>
<text x="955.5" y="1406.1" font-size="20.3" text-anchor="end" letter-spacing="4.2">500</text>
<text x="976.7" y="2021.2" font-size="28" font-weight="bold" text-anchor="middle">0</text>
<text x="1105.1" y="2021.2" font-size="28" font-weight="bold" text-anchor="middle">2</text>
<text x="1233.5" y="2021.2" font-size="28" font-weight="bold" text-anchor="middle">4</text>
<text x="1361.9" y="2021.2" font-size="28" font-weight="bold" text-anchor="middle">6</text>
<text x="1490.3" y="2021.2" font-size="28" font-weight="bold" text-anchor="middle">8</text>
<text x="1622.8" y="2021.2" font-size="28" font-weight="bold" text-anchor="middle" letter-spacing="5">10</text>
<text x="1024" y="2087.7" font-size="27" font-weight="bold" textLength="546.5" lengthAdjust="spacing">Fraction number (30 min each)</text>
</g>
<g stroke="#000" fill="#000">
<line x1="1238.6" y1="1721.6" x2="1238.6" y2="1802.5" stroke-width="2.9"/>
<polygon stroke="none" points="1227.6,1800.5 1249.6,1800.5 1238.6,1828.4"/>
</g>
<g stroke="#000" fill="none">
<line x1="1039.3" y1="1833.77" x2="1039.3" y2="1822.48" stroke-width="2.7"/>
<line x1="1027.8" y1="1822.48" x2="1050.8" y2="1822.48" stroke-width="2.9"/>
<line x1="1424.5" y1="1832.64" x2="1424.5" y2="1819.09" stroke-width="2.7"/>
<line x1="1413" y1="1819.09" x2="1436" y2="1819.09" stroke-width="2.9"/>
<line x1="1488.7" y1="1813.44" x2="1488.7" y2="1795.36" stroke-width="2.7"/>
<line x1="1477.2" y1="1795.36" x2="1500.2" y2="1795.36" stroke-width="2.9"/>
<line x1="1552.9" y1="1811.18" x2="1552.9" y2="1793.1" stroke-width="2.7"/>
<line x1="1541.4" y1="1793.1" x2="1564.4" y2="1793.1" stroke-width="2.9"/>
<line x1="1617.1" y1="1791.41" x2="1617.1" y2="1761.47" stroke-width="2.7"/>
<line x1="1605.6" y1="1761.47" x2="1628.6" y2="1761.47" stroke-width="2.9"/>
<line x1="1296.1" y1="1829.25" x2="1296.1" y2="1812.31" stroke-width="2.7"/>
<line x1="1284.6" y1="1812.31" x2="1307.6" y2="1812.31" stroke-width="2.9"/>
<line x1="1360.3" y1="1834.9" x2="1360.3" y2="1820.22" stroke-width="2.7"/>
<line x1="1348.8" y1="1820.22" x2="1371.8" y2="1820.22" stroke-width="2.9"/>
<line x1="1424.5" y1="1810.05" x2="1424.5" y2="1795.36" stroke-width="2.7"/>
<line x1="1413" y1="1795.36" x2="1436" y2="1795.36" stroke-width="2.9"/>
<line x1="1488.7" y1="1801.01" x2="1488.7" y2="1777.28" stroke-width="2.7"/>
<line x1="1477.2" y1="1777.28" x2="1500.2" y2="1777.28" stroke-width="2.9"/>
<line x1="1552.9" y1="1702.72" x2="1552.9" y2="1636.06" stroke-width="2.7"/>
<line x1="1541.4" y1="1636.06" x2="1564.4" y2="1636.06" stroke-width="2.9"/>
<line x1="1617.1" y1="1751.3" x2="1617.1" y2="1703.85" stroke-width="2.7"/>
<line x1="1605.6" y1="1703.85" x2="1628.6" y2="1703.85" stroke-width="2.9"/>
<line x1="1617.1" y1="1828.12" x2="1617.1" y2="1811.18" stroke-width="2.7"/>
<line x1="1605.6" y1="1811.18" x2="1628.6" y2="1811.18" stroke-width="2.9"/>
</g>
<g stroke="#000" fill="none" stroke-linejoin="round">
<polyline points="1039.3,1845.07 1103.5,1847.33 1167.7,1851.85 1231.9,1856.37 1296.1,1829.25 1360.3,1834.9 1424.5,1810.05 1488.7,1801.01 1552.9,1702.72 1617.1,1751.3" fill="none" stroke-width="2.8"/>
<polyline points="1039.3,1850.72 1103.5,1847.33 1167.7,1854.11 1231.9,1854.11 1296.1,1847.33 1360.3,1848.46 1424.5,1849.59 1488.7,1834.9 1552.9,1860.89 1617.1,1852.98" fill="none" stroke-width="2.8"/>
<polyline points="1039.3,1833.77 1103.5,1861.45 1167.7,1855.24 1231.9,1856.37 1296.1,1847.33 1360.3,1849.59 1424.5,1832.64 1488.7,1813.44 1552.9,1811.18 1617.1,1791.41" fill="none" stroke-width="2.8"/>
<polyline points="1039.3,1838.86 1103.5,1852.98 1167.7,1863.71 1231.9,1847.33 1296.1,1847.33 1360.3,1864.28 1424.5,1859.76 1488.7,1862.02 1552.9,1848.46 1617.1,1828.12" fill="none" stroke-width="2.8"/>
</g>
<g stroke="#000">
<polygon points="1039.3,1832.47 1051.9,1845.07 1039.3,1857.67 1026.7,1845.07" fill="#000" stroke="none"/>
<polygon points="1103.5,1834.73 1116.1,1847.33 1103.5,1859.93 1090.9,1847.33" fill="#000" stroke="none"/>
<polygon points="1167.7,1839.25 1180.3,1851.85 1167.7,1864.45 1155.1,1851.85" fill="#000" stroke="none"/>
<polygon points="1231.9,1843.77 1244.5,1856.37 1231.9,1868.97 1219.3,1856.37" fill="#000" stroke="none"/>
<polygon points="1296.1,1816.65 1308.7,1829.25 1296.1,1841.85 1283.5,1829.25" fill="#000" stroke="none"/>
<polygon points="1360.3,1822.3 1372.9,1834.9 1360.3,1847.5 1347.7,1834.9" fill="#000" stroke="none"/>
<polygon points="1424.5,1797.45 1437.1,1810.05 1424.5,1822.65 1411.9,1810.05" fill="#000" stroke="none"/>
<polygon points="1488.7,1788.41 1501.3,1801.01 1488.7,1813.61 1476.1,1801.01" fill="#000" stroke="none"/>
<polygon points="1552.9,1690.12 1565.5,1702.72 1552.9,1715.32 1540.3,1702.72" fill="#000" stroke="none"/>
<polygon points="1617.1,1738.7 1629.7,1751.3 1617.1,1763.9 1604.5,1751.3" fill="#000" stroke="none"/>
<polygon points="1039.3,1840.32 1049.7,1850.72 1039.3,1861.12 1028.9,1850.72" fill="#fff" stroke-width="2.7"/>
<polygon points="1103.5,1836.93 1113.9,1847.33 1103.5,1857.73 1093.1,1847.33" fill="#fff" stroke-width="2.7"/>
<polygon points="1167.7,1843.71 1178.1,1854.11 1167.7,1864.51 1157.3,1854.11" fill="#fff" stroke-width="2.7"/>
<polygon points="1231.9,1843.71 1242.3,1854.11 1231.9,1864.51 1221.5,1854.11" fill="#fff" stroke-width="2.7"/>
<polygon points="1296.1,1836.93 1306.5,1847.33 1296.1,1857.73 1285.7,1847.33" fill="#fff" stroke-width="2.7"/>
<polygon points="1360.3,1838.06 1370.7,1848.46 1360.3,1858.86 1349.9,1848.46" fill="#fff" stroke-width="2.7"/>
<polygon points="1424.5,1839.19 1434.9,1849.59 1424.5,1859.99 1414.1,1849.59" fill="#fff" stroke-width="2.7"/>
<polygon points="1488.7,1824.5 1499.1,1834.9 1488.7,1845.3 1478.3,1834.9" fill="#fff" stroke-width="2.7"/>
<polygon points="1552.9,1850.49 1563.3,1860.89 1552.9,1871.29 1542.5,1860.89" fill="#fff" stroke-width="2.7"/>
<polygon points="1617.1,1842.58 1627.5,1852.98 1617.1,1863.38 1606.7,1852.98" fill="#fff" stroke-width="2.7"/>
<circle cx="1039.3" cy="1833.77" r="12.5" fill="#000" stroke="none"/>
<circle cx="1103.5" cy="1861.45" r="12.5" fill="#000" stroke="none"/>
<circle cx="1167.7" cy="1855.24" r="12.5" fill="#000" stroke="none"/>
<circle cx="1231.9" cy="1856.37" r="12.5" fill="#000" stroke="none"/>
<circle cx="1296.1" cy="1847.33" r="12.5" fill="#000" stroke="none"/>
<circle cx="1360.3" cy="1849.59" r="12.5" fill="#000" stroke="none"/>
<circle cx="1424.5" cy="1832.64" r="12.5" fill="#000" stroke="none"/>
<circle cx="1488.7" cy="1813.44" r="12.5" fill="#000" stroke="none"/>
<circle cx="1552.9" cy="1811.18" r="12.5" fill="#000" stroke="none"/>
<circle cx="1617.1" cy="1791.41" r="12.5" fill="#000" stroke="none"/>
<circle cx="1039.3" cy="1838.86" r="10.7" fill="#fff" stroke-width="2.7"/>
<circle cx="1103.5" cy="1852.98" r="10.7" fill="#fff" stroke-width="2.7"/>
<circle cx="1167.7" cy="1863.71" r="10.7" fill="#fff" stroke-width="2.7"/>
<circle cx="1231.9" cy="1847.33" r="10.7" fill="#fff" stroke-width="2.7"/>
<circle cx="1296.1" cy="1847.33" r="10.7" fill="#fff" stroke-width="2.7"/>
<circle cx="1360.3" cy="1864.28" r="10.7" fill="#fff" stroke-width="2.7"/>
<circle cx="1424.5" cy="1859.76" r="10.7" fill="#fff" stroke-width="2.7"/>
<circle cx="1488.7" cy="1862.02" r="10.7" fill="#fff" stroke-width="2.7"/>
<circle cx="1552.9" cy="1848.46" r="10.7" fill="#fff" stroke-width="2.7"/>
<circle cx="1617.1" cy="1828.12" r="10.7" fill="#fff" stroke-width="2.7"/>
</g>
<g font-family="'Liberation Sans', Arial, sans-serif" fill="#000" text-anchor="middle">
<text x="1542" y="1636.39" font-size="26">*</text>
<text x="1559.3" y="1636.39" font-size="26">*</text>
<text x="1606.5" y="1707.09" font-size="26">*</text>
<text x="1623.5" y="1707.09" font-size="26">*</text>
</g>
<g fill="#000">
<circle cx="1282.2" cy="651.6" r="1.2"/>
<circle cx="1286.9" cy="651.6" r="1.2"/>
<circle cx="1298.3" cy="651.6" r="1.2"/>
<circle cx="1303.1" cy="651.6" r="1.2"/>
</g>
<g transform="translate(212.5 622.1)" stroke="#000">
<circle r="21.9" fill="none" stroke-width="3.6"/>
<line x1="15.5" y1="-15.5" x2="43" y2="-42" stroke-width="3.8"/>
<polygon points="23.6,-44.6 46.4,-44.6 46.4,-23 41.6,-23 41.6,-40.1 23.6,-40.1" stroke="none" fill="#000"/>
</g>
<g transform="translate(1020.2 596)" stroke="#000">
<ellipse rx="21.3" ry="19.1" fill="none" stroke-width="3.8"/>
<line x1="0" y1="20" x2="0" y2="57.5" stroke-width="4.2"/>
<line x1="-14.5" y1="42.3" x2="14.5" y2="42.3" stroke-width="4.4"/>
</g>
<g transform="translate(212.5 1440)" stroke="#000">
<circle r="21.9" fill="none" stroke-width="3.6"/>
<line x1="15.5" y1="-15.5" x2="43" y2="-42" stroke-width="3.8"/>
<polygon points="23.6,-44.6 46.4,-44.6 46.4,-23 41.6,-23 41.6,-40.1 23.6,-40.1" stroke="none" fill="#000"/>
</g>
<g transform="translate(1022.1 1414.8)" stroke="#000">
<ellipse rx="21.3" ry="19.1" fill="none" stroke-width="3.8"/>
<line x1="0" y1="20" x2="0" y2="57.5" stroke-width="4.2"/>
<line x1="-14.5" y1="42.3" x2="14.5" y2="42.3" stroke-width="4.4"/>
</g>
<g font-family="'Liberation Sans', Arial, sans-serif" fill="#000">
<text x="34.8" y="1028.8" font-size="29" font-weight="bold" textLength="315.6" lengthAdjust="spacing" transform="rotate(-90 34.8 1028.8)">Extracellular 5-HT</text>
<text x="75.8" y="1022.8" font-size="27" textLength="306.8" lengthAdjust="spacing" transform="rotate(-90 75.8 1022.8)">(% of basal values)</text>
<text x="34.4" y="1835.6" font-size="29" font-weight="bold" textLength="299.4" lengthAdjust="spacing" transform="rotate(-90 34.4 1835.6)">Extracellular Glu</text>
<text x="76.1" y="1837.8" font-size="26.5" textLength="305.9" lengthAdjust="spacing" transform="rotate(-90 76.1 1837.8)">(% of basal values)</text>
</g>
<g stroke="#000" fill="none">
<line x1="206" y1="2157.2" x2="266.5" y2="2157.2" stroke-width="2.7"/>
<line x1="522.7" y1="2157" x2="583.4" y2="2157" stroke-width="2.7"/>
<line x1="831" y1="2157.5" x2="891" y2="2157.5" stroke-width="2.7"/>
<line x1="1251" y1="2157.1" x2="1310.9" y2="2157.1" stroke-width="2.7"/>
</g>
<g stroke="#000">
<circle cx="236.1" cy="2157.2" r="11.1" fill="#fff" stroke-width="2.4"/>
<circle cx="553" cy="2157" r="12.8" fill="#000" stroke="none"/>
<polygon points="861,2145.4 872.4,2157.5 861,2169.6 849.6,2157.5" fill="#fff" stroke-width="2.5"/>
<polygon points="1280.3,2145.3 1292.2,2157.1 1280.3,2168.9 1268.4,2157.1" fill="#000" stroke="none"/>
</g>
<g font-family="'Liberation Sans', Arial, sans-serif" font-weight="bold" fill="#000">
<text x="285.6" y="2169.8" font-size="35.6" textLength="157.5" lengthAdjust="spacingAndGlyphs">WT saline</text>
<text x="598.2" y="2169" font-size="35.6" textLength="158.2" lengthAdjust="spacingAndGlyphs">WT Ket30</text>
<text x="902.8" y="2169" font-size="35.6" textLength="275" lengthAdjust="spacingAndGlyphs">GluN2CKO saline</text>
<text x="1326.8" y="2168.5" font-size="35.6" textLength="275.2" lengthAdjust="spacingAndGlyphs">GluN2CKO Ket30</text>
</g>
</svg>
</body></html>
